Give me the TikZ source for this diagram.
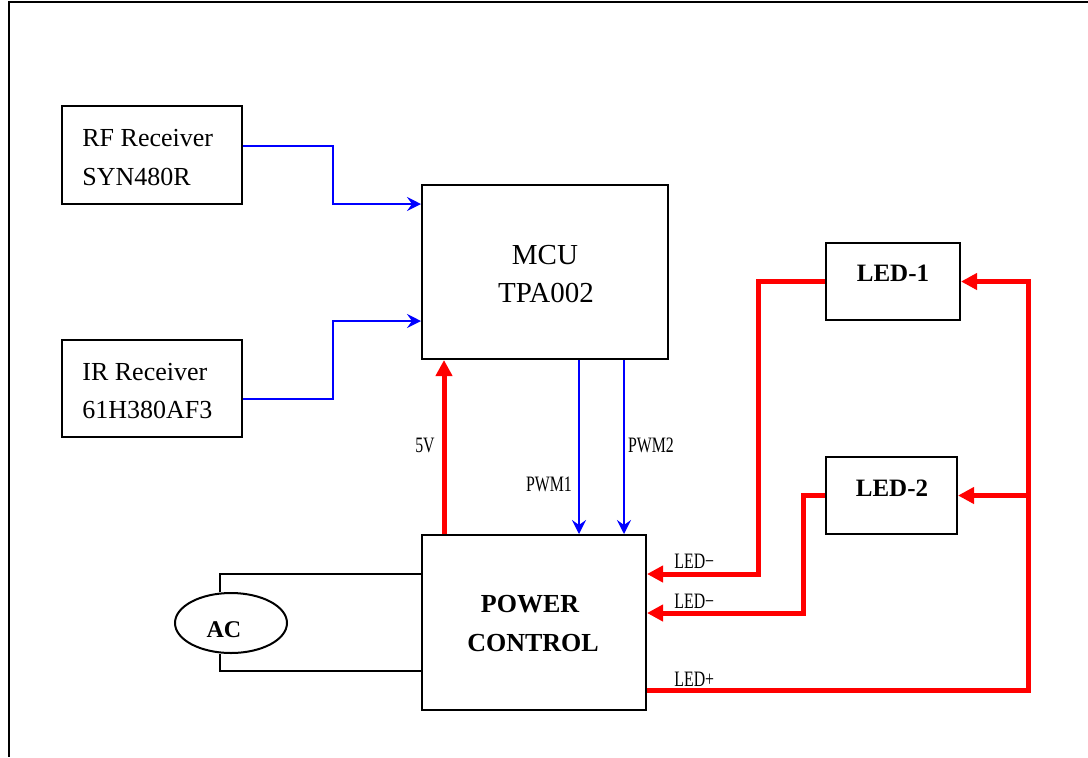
\documentclass[tikz,border=0pt]{standalone}
\usepackage{fontspec}
\setmainfont{Liberation Serif}
\newfontfamily\dgTagFont[FakeStretch=0.72]{Liberation Serif}
\usetikzlibrary{arrows.meta,shapes.geometric}
\newcommand{\dgSize}[2]{{\fontsize{#1}{#1}\selectfont #2}}

\begin{document}
\begin{tikzpicture}[x=0.5pt,y=-0.5pt,
  blockbox/.style={draw, line width=1pt, inner sep=0pt},
  sigline/.style={draw=blue, line width=1pt, -{Stealth[length=7pt,width=7pt,inset=2.5pt]}},
  pwrline/.style={draw=red, line width=2.5pt},
  pwrarrow/.style={pwrline, -{Triangle[length=8pt,width=8pt]}},
  wire/.style={draw, line width=1pt},
  tag/.style={anchor=base, inner sep=0pt, font=\dgTagFont\fontsize{11}{11}\selectfont}]
\useasboundingbox (0,0) rectangle (1088,757);
\draw[line width=1pt] (1088,2) -- (9,2) -- (9,757);
% blocks
\node[blockbox, minimum width=90pt, minimum height=49pt] (rf) at (152,155) {};
\node[blockbox, minimum width=90pt, minimum height=48.5pt] (ir) at (152,388.5) {};
\node[blockbox, minimum width=123pt, minimum height=87pt] (mcu) at (545,272) {};
\node[blockbox, minimum width=112pt, minimum height=87.5pt] (pwr) at (534,622.5) {};
\node[blockbox, minimum width=67pt, minimum height=38.5pt] (led1) at (893,281.5) {};
\node[blockbox, minimum width=65.5pt, minimum height=38.5pt] (led2) at (891.5,495.5) {};
\node[blockbox, ellipse, minimum width=56pt, minimum height=30pt] (ac) at (231,623) {};
% block texts
\node[anchor=base west, inner sep=0pt] (rfname) at (82,146) {\dgSize{13}{RF Receiver}};
\node[anchor=base west, inner sep=0pt] (rfpart) at (82,185) {\dgSize{13}{SYN480R}};
\node[anchor=base west, inner sep=0pt] (irname) at (82,380) {\dgSize{13}{IR Receiver}};
\node[anchor=base west, inner sep=0pt] (irpart) at (82,418) {\dgSize{13}{61H380AF3}};
\node[anchor=base, inner sep=0pt] (mcuname) at (545,264.5) {\dgSize{14.5}{MCU}};
\node[anchor=base, inner sep=0pt] (mcupart) at (546,302) {\dgSize{14.5}{TPA002}};
\node[anchor=base, inner sep=0pt] (pwrtop) at (530,612.5) {\dgSize{13}{\bfseries POWER}};
\node[anchor=base, inner sep=0pt] (pwrbot) at (533,651.5) {\dgSize{13}{\bfseries CONTROL}};
\node[anchor=base, inner sep=0pt] (led1name) at (893,281) {\dgSize{12.5}{\bfseries LED-1}};
\node[anchor=base, inner sep=0pt] (led2name) at (892,496) {\dgSize{12.5}{\bfseries LED-2}};
\node[anchor=base, inner sep=0pt] (acname) at (224,637) {\dgSize{12}{\bfseries AC}};
% signal lines
\draw[sigline] ([yshift=4.5pt]rf.east) -- ++(90,0) |- ([yshift=34pt]mcu.west);
\draw[sigline] ([yshift=-5.25pt]ir.east) -- ++(90,0) |- ([yshift=-24.5pt]mcu.west);
\draw[sigline] ([xshift=17pt]mcu.south) coordinate (pwmone) -- (pwmone |- pwr.north);
\draw[sigline] ([xshift=39.5pt]mcu.south) coordinate (pwmtwo) -- (pwmtwo |- pwr.north);
% power lines
\draw[pwrarrow] ([xshift=-45pt]pwr.north) coordinate (vfive) -- (vfive |- mcu.south);
\draw[pwrarrow] (led1.west) -- ++(-67,0) |- ([yshift=24.25pt]pwr.east);
\draw[pwrarrow] (led2.west) -- ++(-22,0) |- ([yshift=4.75pt]pwr.east);
\coordinate (bus) at (1028,690);
\draw[pwrarrow] ([yshift=-33.75pt]pwr.east) -- (bus) |- (led1.east);
\draw[pwrarrow] (bus |- led2.east) -- (led2.east);
% mains
\draw[wire] ([xshift=-5.5pt]ac.north) |- ([yshift=24.25pt]pwr.west);
\draw[wire] ([xshift=-5.5pt]ac.south) |- ([yshift=-24.25pt]pwr.west);
% line tags
\node[tag] (tagfive) at (425,452.5) {5V};
\node[tag] (tagpwmone) at (549,491.5) {PWM1};
\node[tag] (tagpwmtwo) at (651,452.5) {PWM2};
\node[tag, anchor=base west] (tagminone) at (674,568) {LED−};
\node[tag, anchor=base west] (tagmintwo) at (674,608) {LED−};
\node[tag, anchor=base west] (tagplus) at (674,686) {LED+};
\end{tikzpicture}
\end{document}
